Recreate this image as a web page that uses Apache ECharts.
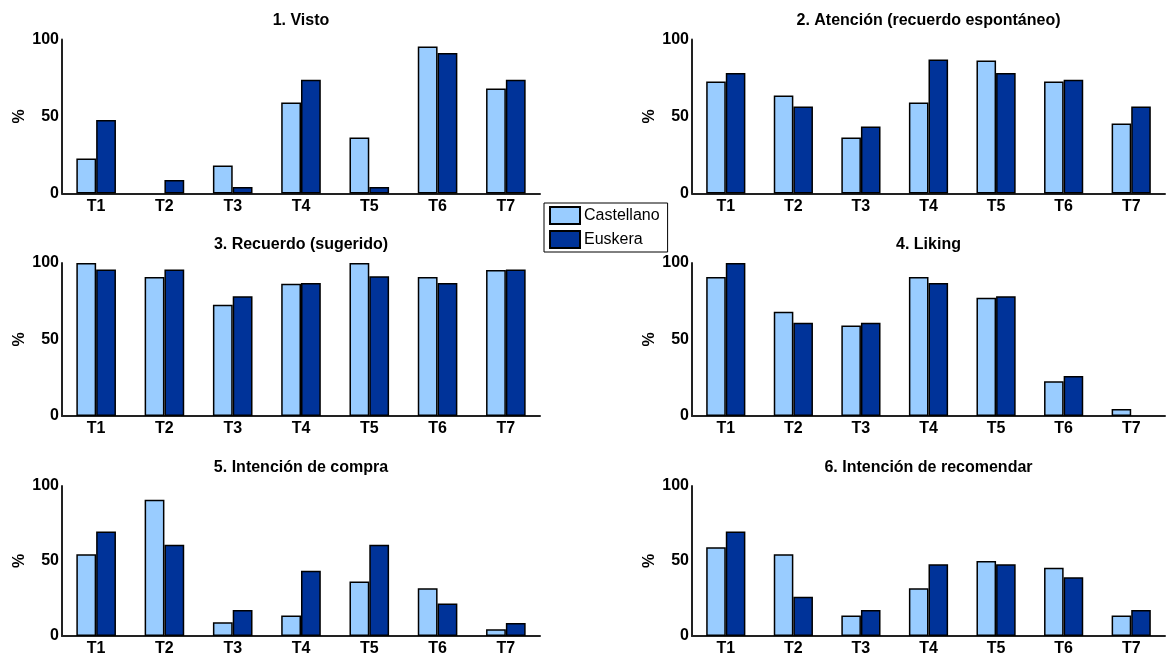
<!DOCTYPE html>
<html>
<head>
<meta charset="utf-8">
<script src="https://cdn.jsdelivr.net/npm/echarts@6/dist/echarts.min.js"></script>
<style>html,body{margin:0;padding:0;background:#fff}#c{width:1168px;height:657px}</style>
</head>
<body>
<div id="c"></div>
<script>
const categories = ['T1','T2','T3','T4','T5','T6','T7'];
const seriesNames = ['Castellano','Euskera'];
const titles = ['1. Visto','2. Atención (recuerdo espontáneo)','3. Recuerdo (sugerido)','4. Liking','5. Intención de compra','6. Intención de recomendar'];
const yTicks = [0, 50, 100];

const vistoCast = [22.7, 0, 18.2, 59.1, 36.4, 95.5, 68.2];
const vistoEusk = [47.8, 8.7, 4.3, 73.9, 4.3, 91.3, 73.9];
const atencionCast = [72.7, 63.6, 36.4, 59.1, 86.4, 72.7, 45.5];
const atencionEusk = [78.3, 56.5, 43.5, 87.0, 78.3, 73.9, 56.5];
const recuerdoCast = [100, 90.9, 72.7, 86.4, 100, 90.9, 95.5];
const recuerdoEusk = [95.7, 95.7, 78.3, 87.0, 91.3, 87.0, 95.7];
const likingCast = [90.9, 68.2, 59.1, 90.9, 77.3, 22.7, 4.5];
const likingEusk = [100, 60.9, 60.9, 87.0, 78.3, 26.1, 0];
const compraCast = [54.5, 90.9, 9.1, 13.6, 36.4, 31.8, 4.5];
const compraEusk = [69.6, 60.9, 17.4, 43.5, 60.9, 21.7, 8.7];
const recomCast = [59.1, 54.5, 13.6, 31.8, 50, 45.5, 13.6];
const recomEusk = [69.6, 26.1, 17.4, 47.8, 47.8, 39.1, 17.4];

const panelData = [
  [vistoCast, vistoEusk],
  [atencionCast, atencionEusk],
  [recuerdoCast, recuerdoEusk],
  [likingCast, likingEusk],
  [compraCast, compraEusk],
  [recomCast, recomEusk]
];

const FONT = "'Liberation Sans', Arial, sans-serif";
const colors = ['#99CCFF', '#003399'];
const cols = [{left: 62, width: 478}, {left: 692, width: 473}];
const rows = [{top: 39.5, height: 154}, {top: 263, height: 153}, {top: 486, height: 153}];
const titleTops = [13, 237, 460];

const grids = [], xAxes = [], yAxes = [], series = [], titleOpts = [];
for (let i = 0; i < 6; i++) {
  const c = cols[i % 2], r = rows[Math.floor(i / 2)];
  grids.push({left: c.left, width: c.width, top: r.top, height: r.height, containLabel: false});
  titleOpts.push({
    text: titles[i], left: c.left + c.width / 2, top: titleTops[Math.floor(i / 2)], textAlign: 'center', padding: 0,
    textStyle: {fontFamily: FONT, fontSize: 16, fontWeight: 'bold', color: '#000'}
  });
  xAxes.push({
    type: 'category', gridIndex: i, data: categories,
    axisLine: {show: true, lineStyle: {color: '#222', width: 2}},
    axisTick: {show: false},
    axisLabel: {fontFamily: FONT, fontSize: 16, fontWeight: 'bold', color: '#000', margin: 5}
  });
  yAxes.push({
    type: 'value', gridIndex: i, min: yTicks[0], max: yTicks[yTicks.length - 1], interval: 50,
    name: '%', nameLocation: 'middle', nameRotate: 90, nameGap: 34,
    nameTextStyle: {fontFamily: FONT, fontSize: 16, fontWeight: 'bold', color: '#000'},
    axisLine: {show: true, lineStyle: {color: '#222', width: 2}},
    axisTick: {show: false},
    splitLine: {show: false},
    axisLabel: {fontFamily: FONT, fontSize: 16, fontWeight: 'bold', color: '#000', margin: 3}
  });
  for (let s = 0; s < 2; s++) {
    series.push({
      type: 'bar', name: seriesNames[s], xAxisIndex: i, yAxisIndex: i,
      data: panelData[i][s].map(v => v === 0 ? {value: 0, itemStyle: {borderWidth: 0, opacity: 0}} : v),
      barGap: '0%', barCategoryGap: '42%',
      itemStyle: {color: colors[s], borderColor: '#000', borderWidth: 1.5},
      emphasis: {disabled: true}, animation: false
    });
  }
}

const chart = echarts.init(document.getElementById('c'), null, {renderer: 'canvas'});
chart.setOption({
  animation: false,
  title: titleOpts,
  legend: {
    data: seriesNames, orient: 'vertical', left: 544, top: 203,
    itemWidth: 30, itemHeight: 17, itemGap: 5, padding: [3, 8, 3, 5],
    borderColor: '#000', borderWidth: 1, backgroundColor: '#fff',
    icon: 'rect', selectedMode: false,
    textStyle: {fontFamily: FONT, fontSize: 16, color: '#000', padding: [0, 0, 0, -1]}
  },
  grid: grids, xAxis: xAxes, yAxis: yAxes, series: series
});
</script>
</body>
</html>
